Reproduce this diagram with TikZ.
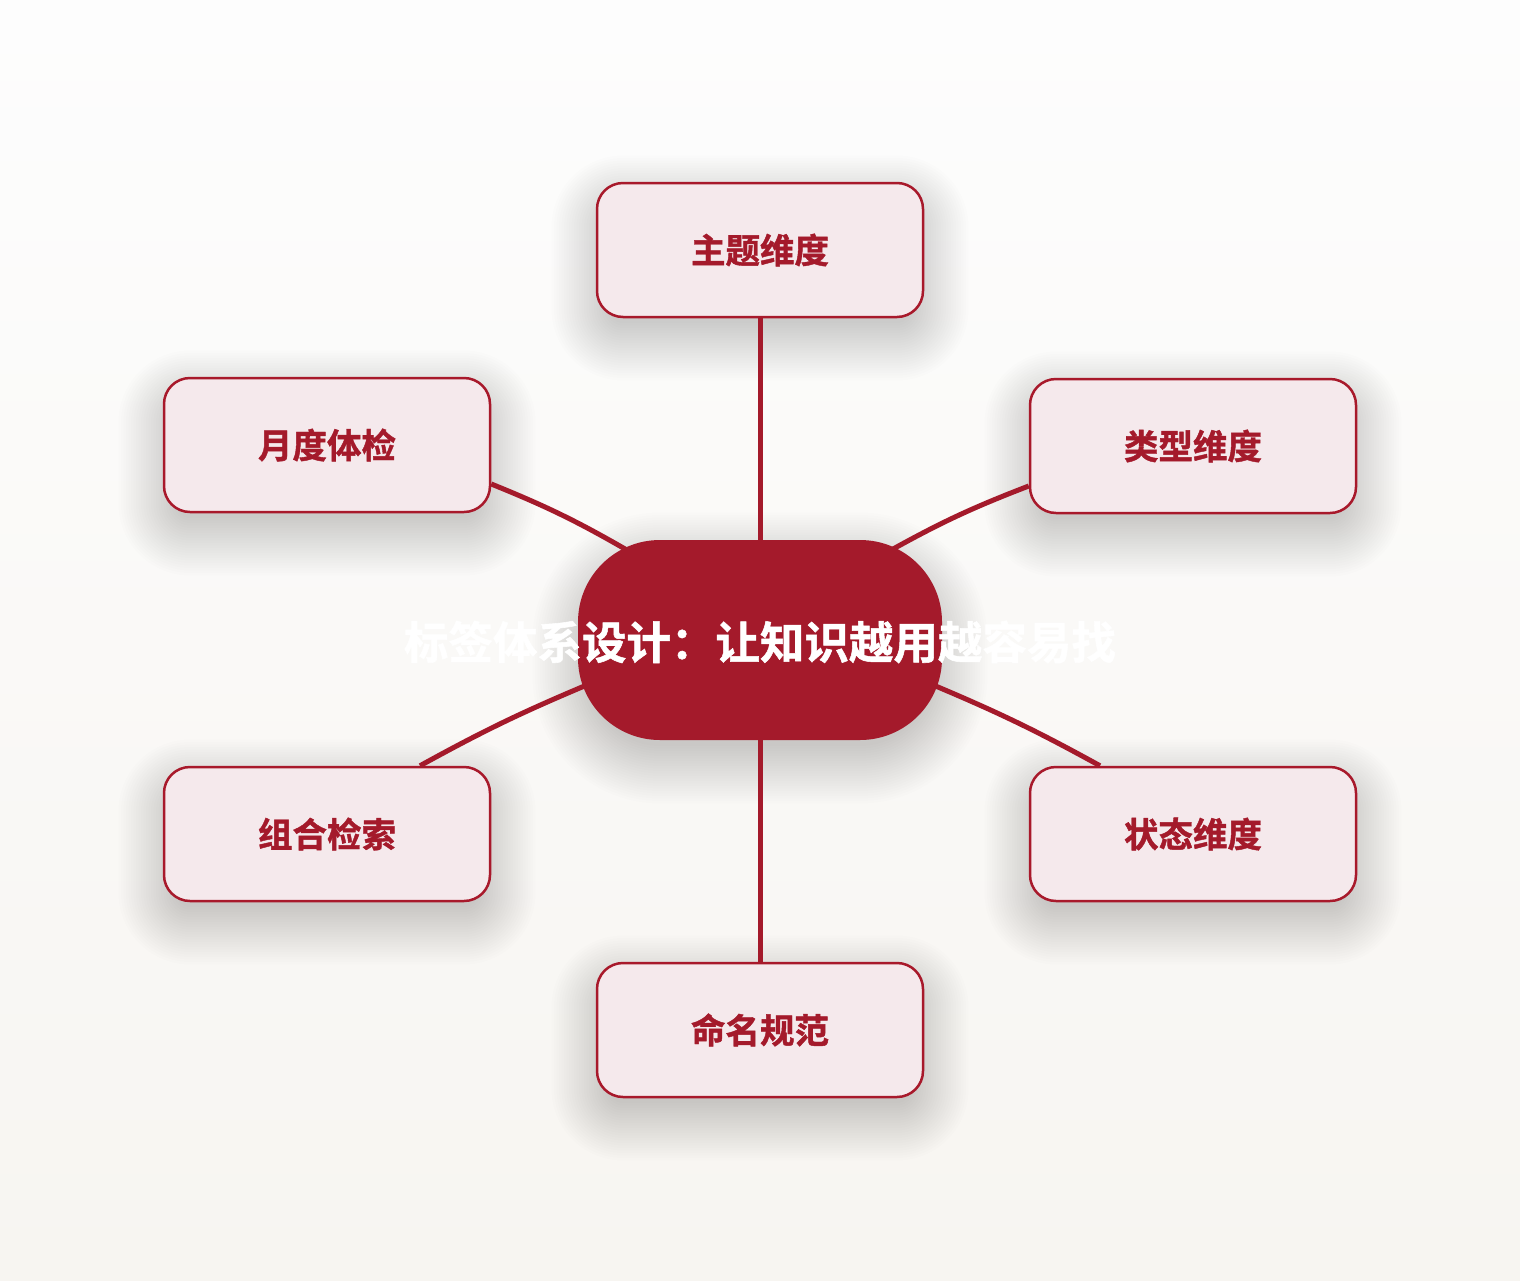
\documentclass[tikz,border=0pt]{standalone}
\usepackage{fontspec}
\newfontfamily\cjk{Noto Sans CJK SC}[BoldFont={Noto Sans CJK SC Bold},BoldFeatures={FakeBold=1.2}]
\definecolor{darkred}{HTML}{A41A2B}
\definecolor{boxfill}{HTML}{F5E9EC}
\definecolor{boxline}{HTML}{A8192B}
\definecolor{bgtop}{HTML}{FDFDFD}
\definecolor{bgbot}{HTML}{F7F5F1}
\definecolor{shadowcol}{HTML}{4A4030}
\tikzset{
  leaf/.style={draw=boxline, line width=2.5pt, fill=boxfill, rounded corners=26pt,
    minimum width=326pt, minimum height=134pt, inner sep=0pt,
    text=darkred, font=\cjk\bfseries\fontsize{34.5}{40}\selectfont},
  hub/.style={fill=darkred, rounded corners=82pt, minimum width=364pt, minimum height=200pt,
    inner sep=0pt, text=white, font=\cjk\bfseries\fontsize{44.5}{50}\selectfont},
  conn/.style={draw=darkred, line width=5pt},
  shadowlayer/.style={fill=shadowcol, opacity=0.0075}
}
% soft shadow: center x, center y, half width, half height, corner radius
\newcommand\mysoftshadow[5]{%
  \foreach \i in {1,...,24}{%
    \pgfmathsetmacro\ex{48-2.5*\i}%
    \pgfmathsetmacro\rr{max(#5+\ex,4)}%
    \fill[shadowlayer, rounded corners=\rr pt] (#1-#3-\ex,#2-#4-\ex+18) rectangle (#1+#3+\ex,#2+#4+\ex+18);
  }%
}
\begin{document}
\begin{tikzpicture}[x=1pt,y=-1pt]
\useasboundingbox (0,0) rectangle (1520,1280);
\shade[top color=bgtop, bottom color=bgbot] (0,0) rectangle (1520,1280);
\mysoftshadow{760}{250}{163}{67}{26}
\mysoftshadow{327}{445}{163}{67}{26}
\mysoftshadow{1193}{446}{163}{67}{26}
\mysoftshadow{327}{834}{163}{67}{26}
\mysoftshadow{1193}{834}{163}{67}{26}
\mysoftshadow{760}{1030}{163}{67}{26}
\mysoftshadow{760}{640}{182}{100}{82}
\node[leaf] (t) at (760,250) {主题维度};
\node[leaf] (ul) at (327,445) {月度体检};
\node[leaf] (ur) at (1193,446) {类型维度};
\node[leaf] (ll) at (327,834) {组合检索};
\node[leaf] (lr) at (1193,834) {状态维度};
\node[leaf] (b) at (760,1030) {命名规范};
\node[hub] (c) at (760,640) {};
\draw[conn] (t.south) -- (c.north);
\draw[conn] ([yshift=-39pt]ul.east) to[bend left=4] ([xshift=-130pt,yshift=-12pt]c.north);
\draw[conn] ([yshift=-40pt]ur.west) to[bend right=4] ([xshift=128pt,yshift=-12pt]c.north);
\draw[conn] ([xshift=93pt]ll.north) to[bend left=3] ([xshift=9pt,yshift=-45pt]c.west);
\draw[conn] ([xshift=-93pt]lr.north) to[bend right=3] ([xshift=-9pt,yshift=-45pt]c.east);
\draw[conn] (c.south) -- (b.north);
\node[text=white, font=\cjk\bfseries\fontsize{44.5}{50}\selectfont, inner sep=0pt] (ctext) at (760,642) {标签体系设计：让知识越用越容易找};
\end{tikzpicture}
\end{document}
